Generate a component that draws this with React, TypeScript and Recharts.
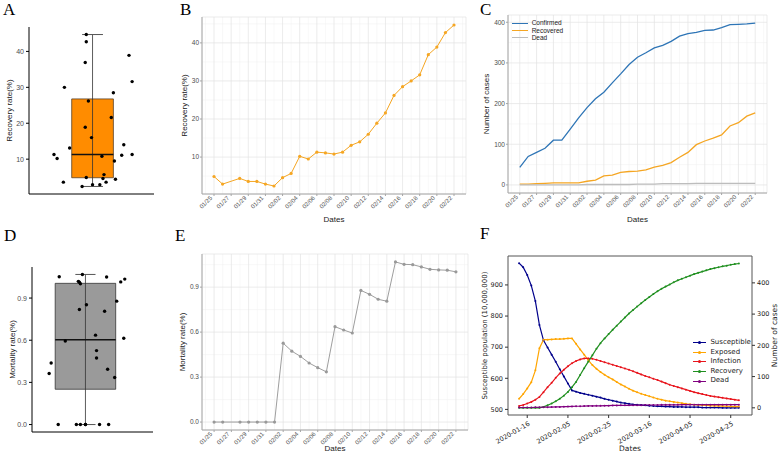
import React from 'react';
import {
  LineChart,
  Line,
  ScatterChart,
  Scatter,
  XAxis,
  YAxis,
  CartesianGrid,
  ReferenceArea,
  ReferenceLine,
  Legend,
  Label,
} from 'recharts';

// ---- daily series, 01/25 .. 02/22 (01/27 has no rate) ----
const dateLabels = [
  '01/25', '01/26', '01/27', '01/28', '01/29', '01/30', '01/31', '02/01', '02/02', '02/03',
  '02/04', '02/05', '02/06', '02/07', '02/08', '02/09', '02/10', '02/11', '02/12', '02/13',
  '02/14', '02/15', '02/16', '02/17', '02/18', '02/19', '02/20', '02/21', '02/22',
];
const recoveryRate = [
  4.9, 2.9, null, 4.4, 3.6, 3.6, 2.9, 2.4, 4.6, 5.7, 10.2, 9.5, 11.3, 11.1, 10.8,
  11.3, 13.1, 14.0, 16.0, 18.9, 21.6, 26.2, 28.5, 30.0, 31.6, 36.9, 38.9, 42.7, 44.7,
];
const mortalityRate = [
  0, 0, null, 0, 0, 0, 0, 0, 0.526, 0.473, 0.438, 0.394, 0.363, 0.335, 0.636,
  0.614, 0.594, 0.878, 0.852, 0.819, 0.806, 1.068, 1.052, 1.05, 1.035, 1.019, 1.015, 1.013, 1.002,
];
const confirmed = [
  43, 70, 80, 90, 110, 110, 137, 165, 190, 212, 228, 251, 273, 296, 314,
  325, 337, 343, 353, 366, 372, 375, 380, 381, 387, 394, 395, 396, 398,
];
const recovered = [
  2, 2, 3, 4, 5, 5, 5, 5, 9, 12, 22, 24, 31, 33, 34,
  37, 44, 48, 55, 68, 80, 99, 108, 115, 123, 145, 153, 169, 177,
];
const dead = [0, 0, 0, 0, 0, 0, 0, 0, 1, 1, 1, 1, 1, 1, 2, 2, 2, 3, 3, 3, 3, 4, 4, 4, 4, 4, 4, 4, 4];

// horizontal jitter of the points in the box plots (same order as the rates, 01/27 skipped)
const recoveryJitter = [
  0.95, 1.01, 1.23, 0.73, 1.14, 1.08, 0.91, 1.11, 1.12, 0.67, 1.22, 0.64, 1.29, 1.1,
  1.39, 0.79, 1.31, 1.0, 0.94, 1.19, 0.97, 1.21, 0.74, 1.39, 0.94, 1.36, 0.95, 0.95,
];
const mortalityJitter = [
  0.66, 0.84, 0.88, 0.93, 1.07, 1.16, 0.93, 1.04, 1.04, 0.59, 1.15, 0.57, 1.22, 1.03,
  1.31, 0.73, 1.24, 0.94, 0.87, 1.12, 0.9, 0.67, 1.14, 1.32, 0.86, 1.28, 0.87, 0.88,
];

// ---- SEIR model, every second day from 2020-01-12 ----
const seirTickDays = [4, 24, 44, 64, 84, 104];
const seirTickLabels = ['2020-01-16', '2020-02-05', '2020-02-25', '2020-03-16', '2020-04-05', '2020-04-25'];
const susceptible = [
  970, 957, 932, 898, 848, 771, 722, 699, 676, 653, 629, 606, 583, 561,
  557, 553, 550, 547, 544, 541, 538, 534, 531, 528, 525, 522, 520, 518,
  516, 515, 514, 513, 512, 511, 510, 510, 509, 509, 508, 508, 508, 507,
  507, 507, 507, 506, 506, 506, 506, 506, 505, 505, 505, 505, 505,
];
const exposed = [
  29, 44, 62, 82, 120, 191, 218, 218, 219, 220, 220, 221, 222, 222,
  205, 187, 170, 153, 137, 125, 115, 106, 98, 91, 83, 75, 68, 61,
  55, 50, 45, 41, 37, 33, 29, 26, 23, 21, 19, 17, 15, 13,
  11.5, 10, 9, 8.5, 8, 7, 6.5, 6, 5.5, 5, 4.5, 4, 4,
];
const infection = [
  6, 9, 14, 19, 26, 35, 50, 66, 80, 96, 110, 122, 133, 143,
  150, 155, 158, 158, 157, 154, 150, 146, 142, 138, 134, 130, 126, 122,
  117, 112, 107, 102, 98, 93, 89, 84, 79, 74, 70, 66, 62, 58,
  54, 50, 47, 44, 41, 38, 36, 34, 32, 30, 28, 26, 24,
];
const recovery = [
  0, 0, 0, 0, 0, 0, 3, 8, 14, 21, 29, 39, 51, 66,
  83, 105, 127, 148, 168, 189, 207, 222, 236, 250, 263, 276, 289, 302,
  313, 324, 335, 345, 355, 364, 373, 381, 388, 395, 402, 408, 413, 418,
  423, 428, 432, 436, 440, 444, 447, 450, 453, 455, 458, 460, 462,
];
const deaths = [
  1, 1, 1, 1, 1.5, 1.5, 2, 2, 2.5, 3, 3, 3.5, 4, 4.5,
  5, 5, 5.5, 6, 6, 6.5, 6.5, 7, 7, 7.5, 7.5, 8, 8, 8,
  8.5, 8.5, 8.5, 9, 9, 9, 9, 9.5, 9.5, 9.5, 9.5, 9.5, 10, 10,
  10, 10, 10, 10, 10, 10, 10, 10, 10, 10, 10, 10, 10,
];

const ggFont = '"Liberation Sans", Arial, sans-serif';
const mplFont = '"DejaVu Sans", sans-serif';
const frameGrey = '#a6a6a6';

const dailyRows = dateLabels.map((d, i) => ({
  day: i,
  recoveryRate: recoveryRate[i],
  mortalityRate: mortalityRate[i],
  confirmed: confirmed[i],
  recovered: recovered[i],
  dead: dead[i],
}));

const seirRows = susceptible.map((s, i) => ({
  day: i * 2,
  susceptible: s,
  exposed: exposed[i],
  infection: infection[i],
  recovery: recovery[i],
  dead: deaths[i],
}));

const majorDays = dateLabels.map((_, i) => i).filter((i) => i % 2 === 0);
const minorDays = [-1, ...dateLabels.map((_, i) => i).filter((i) => i % 2 === 1), 29];

function quantile(sorted: number[], p: number) {
  const pos = (sorted.length - 1) * p;
  const lo = Math.floor(pos);
  const hi = Math.ceil(pos);
  return sorted[lo] + (sorted[hi] - sorted[lo]) * (pos - lo);
}

function boxStats(values: (number | null)[]) {
  const v = values.filter((d) => d != null).map(Number).sort((a, b) => a - b);
  const q1 = quantile(v, 0.25);
  const q3 = quantile(v, 0.75);
  const iqr = q3 - q1;
  return {
    q1,
    q3,
    median: quantile(v, 0.5),
    lo: v.find((d) => d >= q1 - 1.5 * iqr) as number,
    hi: [...v].reverse().find((d) => d <= q3 + 1.5 * iqr) as number,
  };
}

const axisTitle = { fontSize: 8, fill: '#1a1a1a', fontFamily: ggFont, textAnchor: 'middle' } as any;

const DateTick = (props: any) => {
  const { x, y, payload } = props;
  return (
    <text
      transform={`translate(${x - 1.5},${y + 1.5}) rotate(-45)`}
      textAnchor="end"
      fontSize={6}
      fill="#4d4d4d"
      fontFamily={ggFont}
    >
      {dateLabels[payload.value]}
    </text>
  );
};

const SeirTick = (props: any) => {
  const { x, y, payload } = props;
  return (
    <text
      transform={`translate(${x + 3},${y + 5}) rotate(-30)`}
      textAnchor="end"
      fontSize={6.5}
      fill="#222"
      fontFamily={mplFont}
    >
      {seirTickLabels[seirTickDays.indexOf(payload.value)]}
    </text>
  );
};

const blackDot = (p: any) => <circle cx={p.cx} cy={p.cy} r={1.7} fill="#000" />;

function BoxPanel(props: any) {
  const { values, jitter, width, height, marginTop, yWidth, xHeight, yDomain, yTicks, yFmt, label, labelOffset, fill, stroke, box } = props;
  const st = boxStats(values);
  const pts = values.filter((v: any) => v != null).map((v: number, i: number) => ({ x: jitter[i], y: v }));
  return (
    <ScatterChart width={width} height={height} margin={{ top: marginTop, right: width - 154 - (props.rightAdj || 0), bottom: 0, left: 0 }}>
      <XAxis type="number" dataKey="x" domain={[0.4, 1.6]} height={xHeight} tick={false} tickLine={false} axisLine={{ stroke: '#000', strokeWidth: 1 }} />
      <YAxis
        type="number"
        dataKey="y"
        domain={yDomain}
        ticks={yTicks}
        interval={0}
        width={yWidth}
        tickSize={3}
        tickMargin={2}
        tickFormatter={yFmt}
        axisLine={{ stroke: '#000', strokeWidth: 1 }}
        tickLine={{ stroke: '#000' }}
        tick={{ fontSize: 7, fill: '#4d4d4d', fontFamily: ggFont }}
      >
        <Label value={label} angle={-90} position="insideLeft" offset={labelOffset} style={axisTitle} />
      </YAxis>
      <ReferenceArea x1={box.left} x2={box.right} y1={st.q1} y2={st.q3} fill={fill} fillOpacity={1} stroke={stroke} strokeWidth={0.8} ifOverflow="visible" />
      <ReferenceLine segment={[{ x: box.center, y: st.lo }, { x: box.center, y: st.hi }]} stroke="#333" strokeWidth={0.8} ifOverflow="visible" />
      <ReferenceLine segment={[{ x: box.capLeft, y: st.hi }, { x: box.capRight, y: st.hi }]} stroke="#555" strokeWidth={1} ifOverflow="visible" />
      <ReferenceLine segment={[{ x: box.capLeft, y: st.lo }, { x: box.capRight, y: st.lo }]} stroke="#555" strokeWidth={1} ifOverflow="visible" />
      <ReferenceLine segment={[{ x: box.left, y: st.median }, { x: box.right, y: st.median }]} stroke="#111" strokeWidth={1.5} ifOverflow="visible" />
      <Scatter data={pts} shape={blackDot} isAnimationActive={false} />
    </ScatterChart>
  );
}

function TimePanel(props: any) {
  const { width, height, margin, yWidth, xHeight, yDomain, yTicks, yMinor, yFmt, yLabel, yLabelOffset, children } = props;
  return (
    <LineChart width={width} height={height} data={dailyRows} margin={margin}>
      <CartesianGrid stroke="#f1f1f1" strokeWidth={0.5} horizontalValues={yMinor} verticalValues={minorDays} />
      <CartesianGrid stroke="#e2e2e2" strokeWidth={0.7} />
      <XAxis
        type="number"
        dataKey="day"
        domain={[-1.4, 29.4]}
        ticks={majorDays}
        interval={0}
        height={xHeight}
        tickSize={2}
        tickMargin={1}
        axisLine={{ stroke: frameGrey, strokeWidth: 1 }}
        tickLine={{ stroke: frameGrey }}
        tick={(p: any) => <DateTick {...p} />}
      >
        <Label value="Dates" position="insideBottom" offset={props.xLabelOffset} style={axisTitle} />
      </XAxis>
      {/* top and right edges of the panel border */}
      <XAxis xAxisId="frameTop" orientation="top" type="number" domain={[-1.4, 29.4]} height={0} tick={false} tickLine={false} axisLine={{ stroke: frameGrey, strokeWidth: 1 }} />
      <YAxis yAxisId="frameRight" orientation="right" type="number" domain={yDomain} width={0} tick={false} tickLine={false} axisLine={{ stroke: frameGrey, strokeWidth: 1 }} />
      <YAxis
        type="number"
        domain={yDomain}
        ticks={yTicks}
        interval={0}
        width={yWidth}
        tickSize={2}
        tickMargin={1}
        tickFormatter={yFmt}
        axisLine={{ stroke: frameGrey, strokeWidth: 1 }}
        tickLine={{ stroke: frameGrey }}
        tick={{ fontSize: 6.5, fill: '#4d4d4d', fontFamily: ggFont }}
      >
        <Label value={yLabel} angle={-90} position="insideLeft" offset={yLabelOffset} style={axisTitle} />
      </YAxis>
      {children}
    </LineChart>
  );
}

const cSeries = [
  { key: 'confirmed', name: 'Confirmed', color: '#2e75b6' },
  { key: 'recovered', name: 'Recovered', color: '#f5a623' },
  { key: 'dead', name: 'Dead', color: '#bdbdbd' },
];

const fSeries = [
  { key: 'susceptible', name: 'Susceptible', color: '#00008b', axis: 'left' },
  { key: 'exposed', name: 'Exposed', color: '#ffa500', axis: 'right' },
  { key: 'infection', name: 'Infection', color: '#e8141c', axis: 'right' },
  { key: 'recovery', name: 'Recovery', color: '#1f8f1f', axis: 'right' },
  { key: 'dead', name: 'Dead', color: '#800080', axis: 'right' },
];

const legendC = () => (
  <div style={{ fontFamily: ggFont, fontSize: 6.5, color: '#1a1a1a' }}>
    {cSeries.map((s) => (
      <div key={s.key} style={{ display: 'flex', alignItems: 'center', height: 7.3 }}>
        <span style={{ display: 'inline-block', width: 16.6, borderTop: `1.3px solid ${s.color}`, marginRight: 3.4 }} />
        <span style={{ lineHeight: '7.3px' }}>{s.name}</span>
      </div>
    ))}
  </div>
);

const legendF = () => (
  <div style={{ fontFamily: mplFont, fontSize: 7, color: '#222' }}>
    {fSeries.map((s) => (
      <div key={s.key} style={{ display: 'flex', alignItems: 'center', height: 9.65 }}>
        <span style={{ position: 'relative', display: 'inline-block', width: 13.4, borderTop: `1.2px solid ${s.color}`, marginRight: 4 }}>
          <span style={{ position: 'absolute', left: 5.4, top: -2.1, width: 3, height: 3, borderRadius: 2, background: s.color }} />
        </span>
        <span style={{ lineHeight: '9.65px' }}>{s.name}</span>
      </div>
    ))}
  </div>
);

const letterStyle = (left: number, top: number): React.CSSProperties => ({
  position: 'absolute',
  left,
  top,
  fontFamily: '"Liberation Serif", "Times New Roman", serif',
  fontSize: 17,
  lineHeight: '17px',
  color: '#000',
});

export default function App() {
  return (
    <div style={{ position: 'absolute', left: 0, top: 0, width: 778, height: 460, background: '#fff', overflow: 'hidden' }}>
      {/* A */}
      <div style={{ position: 'absolute', left: 0, top: 0 }}>
        <BoxPanel
          values={recoveryRate}
          jitter={recoveryJitter}
          width={160}
          height={215}
          marginTop={27}
          yWidth={29}
          xHeight={21}
          yDomain={[0.3, 46.8]}
          yTicks={[10, 20, 30, 40]}
          label="Recovery rate(%)"
          labelOffset={9}
          fill="#ff8c00"
          stroke="#594026"
          box={{ left: 0.81, right: 1.21, center: 1.01, capLeft: 0.91, capRight: 1.11 }}
        />
      </div>
      {/* D */}
      <div style={{ position: 'absolute', left: 0, top: 230 }}>
        <BoxPanel
          values={mortalityRate}
          jitter={mortalityJitter}
          width={160}
          height={230}
          marginTop={37}
          yWidth={32}
          xHeight={28}
          rightAdj={-1}
          yDomain={[-0.053, 1.121]}
          yTicks={[0, 0.3, 0.6, 0.9]}
          yFmt={(v: number) => v.toFixed(1)}
          label="Mortality rate(%)"
          labelOffset={11.7}
          fill="#9a9a9a"
          stroke="#333"
          box={{ left: 0.63, right: 1.23, center: 0.93, capLeft: 0.83, capRight: 1.03 }}
        />
      </div>
      {/* B */}
      <div style={{ position: 'absolute', left: 170, top: 0 }}>
        <TimePanel
          width={300}
          height={225}
          margin={{ top: 17, right: 4, bottom: 0, left: 0 }}
          yWidth={32}
          xHeight={31}
          xLabelOffset={3}
          yDomain={[0.3, 46.8]}
          yTicks={[10, 20, 30, 40]}
          yMinor={[5, 15, 25, 35, 45]}
          yLabel="Recovery rate(%)"
          yLabelOffset={14}
        >
          <Line
            dataKey="recoveryRate"
            stroke="#f5a623"
            strokeWidth={1}
            connectNulls
            dot={{ r: 1.6, fill: '#f5a623', stroke: '#f5a623', strokeWidth: 0 }}
            isAnimationActive={false}
          />
        </TimePanel>
      </div>
      {/* E */}
      <div style={{ position: 'absolute', left: 170, top: 230 }}>
        <TimePanel
          width={300}
          height={230}
          margin={{ top: 24, right: 2, bottom: 0, left: 0 }}
          yWidth={32}
          xHeight={30}
          xLabelOffset={9}
          yDomain={[-0.053, 1.121]}
          yTicks={[0, 0.3, 0.6, 0.9]}
          yMinor={[0.15, 0.45, 0.75, 1.05]}
          yFmt={(v: number) => v.toFixed(1)}
          yLabel="Mortality rate(%)"
          yLabelOffset={11.7}
        >
          <Line
            dataKey="mortalityRate"
            stroke="#9e9e9e"
            strokeWidth={1}
            connectNulls
            dot={{ r: 1.6, fill: '#999', stroke: '#999', strokeWidth: 0 }}
            isAnimationActive={false}
          />
        </TimePanel>
      </div>
      {/* C */}
      <div style={{ position: 'absolute', left: 478, top: 0 }}>
        <TimePanel
          width={294}
          height={225}
          margin={{ top: 15, right: 5, bottom: 0, left: 0 }}
          yWidth={30}
          xHeight={32}
          xLabelOffset={3}
          yDomain={[-19.9, 417.9]}
          yTicks={[0, 100, 200, 300, 400]}
          yMinor={[50, 150, 250, 350]}
          yLabel="Number of cases"
          yLabelOffset={8}
        >
          {cSeries.map((s) => (
            <Line key={s.key} dataKey={s.key} stroke={s.color} strokeWidth={1.3} dot={false} isAnimationActive={false} />
          ))}
          <Legend
            content={legendC}
            layout="vertical"
            align="center"
            verticalAlign="middle"
            wrapperStyle={{ left: 33.7, top: 19.4, width: 'auto', height: 'auto' }}
          />
        </TimePanel>
      </div>
      {/* F */}
      <div style={{ position: 'absolute', left: 478, top: 230 }}>
        <LineChart width={300} height={230} data={seirRows} margin={{ top: 26, right: 0, bottom: 0, left: 0 }}>
          <XAxis
            type="number"
            dataKey="day"
            domain={[-5.45, 114.45]}
            ticks={seirTickDays}
            interval={0}
            height={45}
            tickSize={3}
            tickMargin={2}
            axisLine={false}
            tickLine={{ stroke: '#333' }}
            tick={(p: any) => <SeirTick {...p} />}
          >
            <Label value="Dates" position="insideBottom" offset={9} style={{ ...axisTitle, fontFamily: mplFont, fontSize: 7.5, fill: '#222' }} />
          </XAxis>
          <YAxis
            yAxisId="left"
            type="number"
            domain={[482, 993]}
            ticks={[500, 600, 700, 800, 900]}
            interval={0}
            width={30}
            tickSize={3}
            tickMargin={2}
            axisLine={false}
            tickLine={{ stroke: '#333' }}
            tick={{ fontSize: 6.5, fill: '#222', fontFamily: mplFont }}
          >
            <Label value="Susceptible population (10,000,000)" angle={-90} position="insideLeft" offset={7} style={{ ...axisTitle, fontFamily: mplFont, fontSize: 7, fill: '#222' }} />
          </YAxis>
          <YAxis
            yAxisId="right"
            orientation="right"
            type="number"
            domain={[-23, 486]}
            ticks={[0, 100, 200, 300, 400]}
            interval={0}
            width={26}
            tickSize={3}
            tickMargin={2}
            axisLine={false}
            tickLine={{ stroke: '#333' }}
            tick={{ fontSize: 6.5, fill: '#222', fontFamily: mplFont }}
          >
            <Label value="Number of cases" angle={-90} position="insideRight" offset={4} style={{ ...axisTitle, fontFamily: mplFont, fontSize: 7.5, fill: '#222' }} />
          </YAxis>
          <ReferenceArea yAxisId="left" x1={-5.45} x2={114.45} y1={482} y2={993} fill="none" fillOpacity={0} stroke="#555" strokeWidth={1} ifOverflow="visible" />
          {fSeries.map((s) => (
            <Line
              key={s.key}
              yAxisId={s.axis}
              dataKey={s.key}
              stroke={s.color}
              strokeWidth={1.2}
              dot={{ r: 1, fill: s.color, stroke: s.color, strokeWidth: 0 }}
              isAnimationActive={false}
            />
          ))}
          <Legend
            content={legendF}
            layout="vertical"
            align="center"
            verticalAlign="middle"
            wrapperStyle={{ left: 215, top: 107.9, width: 'auto', height: 'auto' }}
          />
        </LineChart>
      </div>
      <div style={letterStyle(3, 1)}>A</div>
      <div style={letterStyle(180, 1)}>B</div>
      <div style={letterStyle(480, 1)}>C</div>
      <div style={letterStyle(4, 227)}>D</div>
      <div style={letterStyle(175, 227)}>E</div>
      <div style={letterStyle(480, 225)}>F</div>
    </div>
  );
}
